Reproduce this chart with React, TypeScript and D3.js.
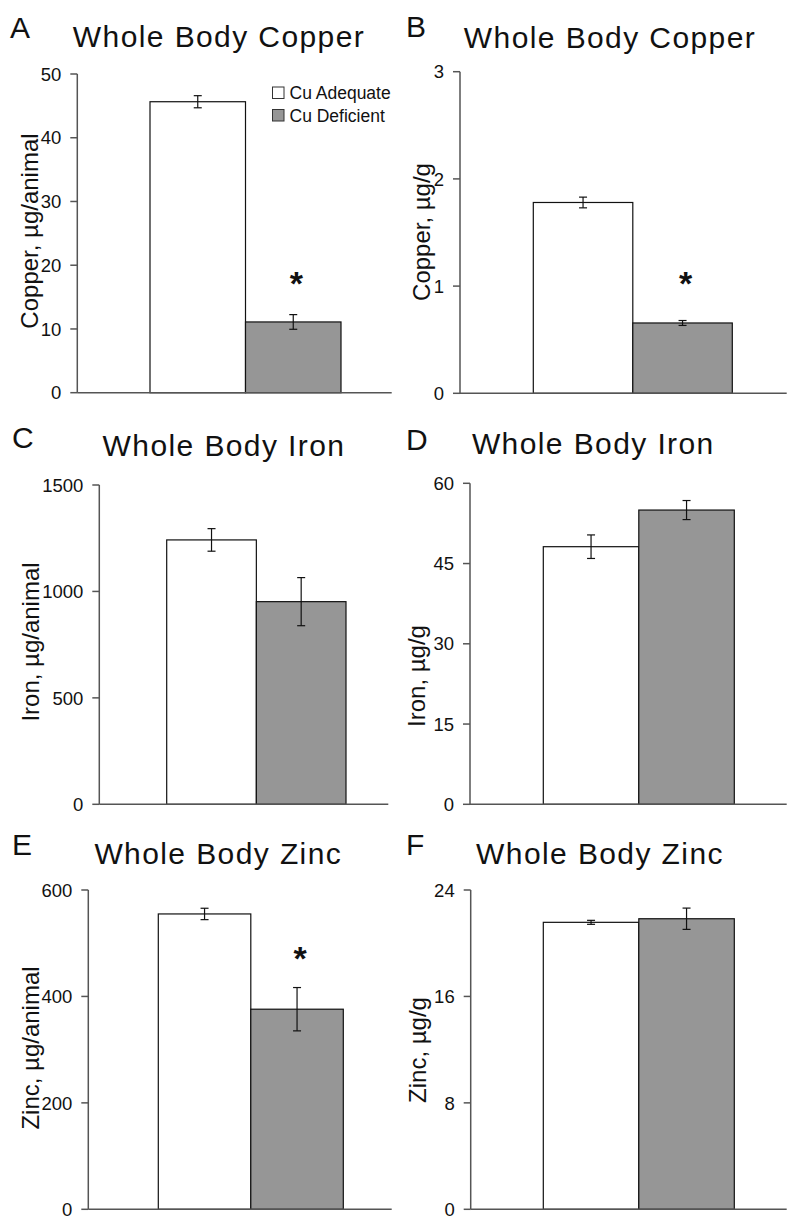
import React from "react";
import * as d3 from "d3";

const groups = ["Cu Adequate", "Cu Deficient"];
const groupFills = ["#ffffff", "#969696"];

const panelLetters = ["A", "B", "C", "D", "E", "F"];
const panelTitles = [
  "Whole Body Copper",
  "Whole Body Copper",
  "Whole Body Iron",
  "Whole Body Iron",
  "Whole Body Zinc",
  "Whole Body Zinc",
];
const yLabels = [
  "Copper, µg/animal",
  "Copper, µg/g",
  "Iron, µg/animal",
  "Iron, µg/g",
  "Zinc, µg/animal",
  "Zinc, µg/g",
];
const yMax = [50, 3, 1500, 60, 600, 24];
const yTicks = [
  [0, 10, 20, 30, 40, 50],
  [0, 1, 2, 3],
  [0, 500, 1000, 1500],
  [0, 15, 30, 45, 60],
  [0, 200, 400, 600],
  [0, 8, 16, 24],
];
const meanValues = [
  [45.65, 11.1],
  [1.78, 0.656],
  [1242, 952],
  [48.15, 55.0],
  [555, 376],
  [21.57, 21.84],
];
const seValues = [
  [0.95, 1.15],
  [0.05, 0.023],
  [53, 113],
  [2.2, 1.78],
  [10.7, 40.7],
  [0.15, 0.8],
];
// significance marker (asterisk) height in data units, null = none
const starValues = [18.9, 1.13, null, null, 491, null];

// layout (pixel geometry per panel)
const layouts = [
  { ax: 77.3, axEnd: 391.7, top: 74, bot: 392.7, b0: 150, b1: 341, titleX: 219, titleY: 46.7, letX: 10, letY: 38, labX: 38.3, labY: 231 },
  { ax: 460, axEnd: 786.7, top: 71.7, bot: 393.3, b0: 533.3, b1: 732.3, titleX: 610, titleY: 48, letX: 406, letY: 37, labX: 430, labY: 232 },
  { ax: 99.3, axEnd: 388.3, top: 485, bot: 804.3, b0: 166.7, b1: 346, titleX: 224, titleY: 455.7, letX: 12, letY: 448, labX: 39.3, labY: 642 },
  { ax: 470, axEnd: 786.7, top: 483.3, bot: 804.3, b0: 543.3, b1: 734.3, titleX: 593.3, titleY: 454.3, letX: 406, letY: 450, labX: 425, labY: 676 },
  { ax: 88.3, axEnd: 391.7, top: 890, bot: 1209.3, b0: 158.3, b1: 343.3, titleX: 218.3, titleY: 864.3, letX: 12, letY: 855, labX: 39.3, labY: 1048 },
  { ax: 470.7, axEnd: 786.7, top: 890, bot: 1209.3, b0: 543.3, b1: 734.3, titleX: 600, titleY: 864.3, letX: 406, letY: 855, labX: 426, labY: 1050 },
];

const FONT = "'Liberation Sans', Arial, Helvetica, sans-serif";
const AXIS = "#555555";
const INK = "#111111";

function Panel({ i }: { i: number }) {
  const L = layouts[i];
  const y = d3.scaleLinear().domain([0, yMax[i]]).range([L.bot, L.top]);
  const x = d3.scaleBand<string>().domain(groups).range([L.b0, L.b1]).padding(0);
  const bw = x.bandwidth();
  const star = starValues[i];
  return (
    <g>
      <text x={L.letX} y={L.letY} fontSize={30} fontFamily={FONT} fill={INK}>
        {panelLetters[i]}
      </text>
      <text
        x={L.titleX}
        y={L.titleY}
        fontSize={30}
        fontFamily={FONT}
        fill={INK}
        textAnchor="middle"
        letterSpacing={1.4}
      >
        {panelTitles[i]}
      </text>
      <text
        transform={`translate(${L.labX},${L.labY}) rotate(-90)`}
        fontSize={24}
        fontFamily={FONT}
        fill={INK}
        textAnchor="middle"
      >
        {yLabels[i]}
      </text>
      {groups.map((g, j) => {
        const v = meanValues[i][j];
        const se = seValues[i][j];
        const x0 = x(g) as number;
        const cx = x0 + bw / 2;
        return (
          <g key={g}>
            <rect
              x={x0}
              y={y(v)}
              width={bw}
              height={y(0) - y(v)}
              fill={groupFills[j]}
              stroke={INK}
              strokeWidth={1.2}
            />
            <line x1={cx} x2={cx} y1={y(v + se)} y2={y(v - se)} stroke={INK} strokeWidth={1.2} />
            <line x1={cx - 4} x2={cx + 4} y1={y(v + se)} y2={y(v + se)} stroke={INK} strokeWidth={1.2} />
            <line x1={cx - 4} x2={cx + 4} y1={y(v - se)} y2={y(v - se)} stroke={INK} strokeWidth={1.2} />
          </g>
        );
      })}
      {star !== null && (
        <text
          x={(x(groups[1]) as number) + bw / 2 + 3}
          y={y(star as number)}
          dy="0.66em"
          fontSize={34}
          fontWeight="bold"
          fontFamily={FONT}
          fill={INK}
          textAnchor="middle"
        >
          *
        </text>
      )}
      {/* y axis */}
      <line x1={L.ax} x2={L.ax} y1={L.top} y2={L.bot} stroke={AXIS} strokeWidth={1.5} />
      <line x1={L.ax} x2={L.axEnd} y1={L.bot} y2={L.bot} stroke={AXIS} strokeWidth={1.5} />
      {yTicks[i].map((t) => (
        <g key={t}>
          <line x1={L.ax - 7} x2={L.ax} y1={y(t)} y2={y(t)} stroke={AXIS} strokeWidth={1.5} />
          <text
            x={L.ax - 16}
            y={y(t)}
            dy="0.36em"
            fontSize={18.5}
            fontFamily={FONT}
            fill={INK}
            textAnchor="end"
          >
            {t}
          </text>
        </g>
      ))}
    </g>
  );
}

export default function App() {
  const legendX = 272.5;
  const legendY = [87, 109.5];
  return (
    <svg
      width={800}
      height={1228}
      style={{ position: "absolute", left: 0, top: 0, background: "#ffffff" }}
    >
      <rect x={0} y={0} width={800} height={1228} fill="#ffffff" />
      {layouts.map((_, i) => (
        <Panel key={i} i={i} />
      ))}
      {groups.map((g, j) => (
        <g key={g}>
          <rect
            x={legendX}
            y={legendY[j]}
            width={11.5}
            height={11.5}
            fill={groupFills[j]}
            stroke="#333"
            strokeWidth={1}
          />
          <text x={legendX + 17} y={legendY[j] + 12} fontSize={17.5} fontFamily={FONT} fill={INK}>
            {g}
          </text>
        </g>
      ))}
    </svg>
  );
}
